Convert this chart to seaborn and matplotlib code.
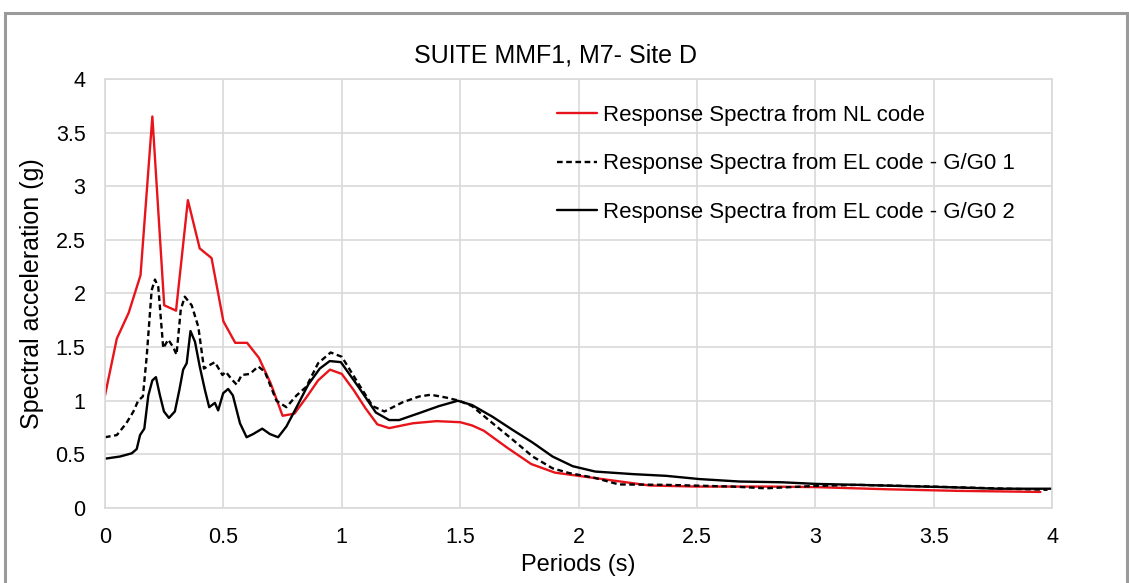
import matplotlib
matplotlib.use("Agg")
import matplotlib.pyplot as plt
import seaborn as sns
from matplotlib.patches import Rectangle

# Response spectra
nl_period = [0, 0.05, 0.1, 0.15, 0.2, 0.25, 0.3, 0.35, 0.4, 0.45, 0.5, 0.55, 0.6, 0.65,
             0.7, 0.75, 0.8, 0.85, 0.9, 0.95, 1.0, 1.05, 1.1, 1.15, 1.2, 1.3, 1.4, 1.5,
             1.55, 1.6, 1.65, 1.7, 1.8, 1.9, 2.0, 2.1, 2.2, 2.3, 2.5, 2.8, 3.0, 3.3, 3.6, 3.95]
nl_sa = [1.05, 1.58, 1.82, 2.17, 3.65, 1.89, 1.84, 2.87, 2.42, 2.33, 1.74, 1.54, 1.54, 1.40,
         1.16, 0.86, 0.88, 1.03, 1.19, 1.29, 1.25, 1.10, 0.93, 0.78, 0.745, 0.79, 0.81, 0.80,
         0.77, 0.72, 0.64, 0.56, 0.41, 0.33, 0.30, 0.27, 0.24, 0.21, 0.20, 0.20, 0.195, 0.175, 0.16, 0.15]

el1_period = [0, 0.05, 0.09, 0.12, 0.14, 0.16, 0.176, 0.197, 0.211, 0.225, 0.246, 0.267, 0.288,
              0.302, 0.32, 0.337, 0.366, 0.394, 0.418, 0.44, 0.464, 0.496, 0.51, 0.535, 0.556,
              0.577, 0.612, 0.647, 0.675, 0.724, 0.766, 0.809, 0.85, 0.90, 0.953, 1.0, 1.07,
              1.13, 1.18, 1.256, 1.327, 1.376, 1.44, 1.496, 1.55, 1.637, 1.72, 1.806, 1.89,
              1.96, 2.07, 2.17, 2.37, 2.65, 2.79, 3.0, 3.18, 3.49, 3.98]
el1_sa = [0.66, 0.68, 0.79, 0.90, 1.0, 1.04, 1.41, 2.03, 2.13, 2.06, 1.49, 1.57, 1.50,
          1.43, 1.85, 1.97, 1.89, 1.69, 1.30, 1.33, 1.36, 1.24, 1.27, 1.20, 1.15,
          1.24, 1.25, 1.32, 1.27, 1.0, 0.94, 1.05, 1.13, 1.35, 1.45, 1.41, 1.16,
          0.95, 0.90, 0.985, 1.04, 1.056, 1.03, 1.0, 0.95, 0.79, 0.64, 0.48, 0.37,
          0.326, 0.28, 0.22, 0.216, 0.2, 0.184, 0.206, 0.216, 0.2, 0.17]

el2_period = [0, 0.063, 0.113, 0.134, 0.148, 0.166, 0.183, 0.2, 0.215, 0.232, 0.249, 0.27,
              0.295, 0.314, 0.33, 0.345, 0.361, 0.38, 0.40, 0.422, 0.44, 0.464, 0.478, 0.499,
              0.52, 0.54, 0.57, 0.598, 0.626, 0.664, 0.696, 0.731, 0.766, 0.809, 0.858, 0.907,
              0.949, 0.996, 1.07, 1.144, 1.2, 1.242, 1.327, 1.41, 1.49, 1.55, 1.637, 1.72,
              1.806, 1.89, 1.975, 2.07, 2.23, 2.37, 2.51, 2.68, 2.86, 3.0, 3.18, 3.35, 3.56,
              3.77, 4.0]
el2_sa = [0.46, 0.48, 0.51, 0.55, 0.68, 0.74, 1.05, 1.19, 1.22, 1.05, 0.90, 0.84,
          0.90, 1.10, 1.29, 1.35, 1.65, 1.55, 1.32, 1.10, 0.94, 0.98, 0.91, 1.07,
          1.11, 1.05, 0.79, 0.66, 0.69, 0.74, 0.69, 0.66, 0.76, 0.94, 1.15, 1.30,
          1.37, 1.36, 1.13, 0.89, 0.82, 0.82, 0.885, 0.95, 1.0, 0.96, 0.85, 0.73,
          0.61, 0.48, 0.39, 0.34, 0.316, 0.30, 0.27, 0.247, 0.24, 0.225, 0.216, 0.206, 0.194,
          0.18, 0.18]

ticks = [0, 0.5, 1, 1.5, 2, 2.5, 3, 3.5, 4]
tick_labels = ['0', '0.5', '1', '1.5', '2', '2.5', '3', '3.5', '4']

sns.set_theme(style="whitegrid")
plt.rcParams['font.family'] = ['Liberation Sans', 'DejaVu Sans']
plt.rcParams['text.color'] = 'black'
plt.rcParams['xtick.color'] = 'black'
plt.rcParams['ytick.color'] = 'black'
plt.rcParams['axes.labelcolor'] = 'black'

fig = plt.figure(figsize=(11.29, 5.83), dpi=100)
ax = fig.add_axes([0.093, 0.1286, 0.839, 0.736])

# thin grey frame round the whole figure
fig.patches.append(Rectangle((0.004, -0.01), 0.994, 0.988, transform=fig.transFigure,
                             fill=False, edgecolor='#9a9a9a', linewidth=2.2))

sns.lineplot(x=nl_period, y=nl_sa, ax=ax, color='#e8141b', linewidth=1.7,
             label='Response Spectra from NL code')
sns.lineplot(x=el1_period, y=el1_sa, ax=ax, color='black', linewidth=1.7,
             dashes=False, label='Response Spectra from EL code - G/G0 1')
ax.lines[-1].set_dashes((2.4, 1.5))
sns.lineplot(x=el2_period, y=el2_sa, ax=ax, color='black', linewidth=1.7,
             label='Response Spectra from EL code - G/G0 2')

ax.set_xlim(0, 4)
ax.set_ylim(0, 4)
ax.set_xticks(ticks)
ax.set_xticklabels(tick_labels)
ax.set_yticks(ticks)
ax.set_yticklabels(tick_labels)
ax.tick_params(axis='x', labelsize=15.5, length=0, pad=14)
ax.tick_params(axis='y', labelsize=15.5, length=0, pad=14)
ax.grid(color='#d9d9d9', linewidth=1.2)
for s in ax.spines.values():
    s.set_color('#d9d9d9')
    s.set_linewidth(1.2)

fig.text(0.492, 1 - 63 / 583, 'SUITE MMF1, M7- Site D', fontsize=18,
         ha='center', va='baseline')
ax.set_xlabel('Periods (s)', fontsize=17, labelpad=4)
ax.set_ylabel('Spectral acceleration (g)', fontsize=18, labelpad=8)

leg = ax.legend(loc='upper left', bbox_to_anchor=(0.4773, 0.939), frameon=False,
                fontsize=16, handlelength=1.8, handletextpad=0.26, labelspacing=1.23,
                borderaxespad=0, borderpad=0)

fig.savefig('out.png', dpi=100)
